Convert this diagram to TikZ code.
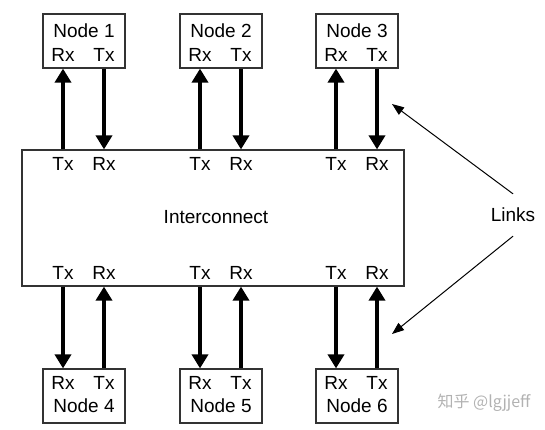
\documentclass[tikz,border=0pt]{standalone}
\usepackage{fontspec}
\setmainfont{Liberation Sans}
\newfontfamily\cjk{Noto Sans CJK SC}
\usetikzlibrary{arrows.meta, positioning}
\tikzstyle{endpoint} = [rectangle, draw=black!80, line width=1.2pt, minimum width=82pt,
    minimum height=54pt, inner sep=0pt]
\tikzstyle{hub} = [rectangle, draw=black!80, line width=1.2pt, minimum width=382pt,
    minimum height=136pt, inner sep=0pt]
\tikzstyle{label} = [inner sep=0pt, font=\fontsize{19}{22}\selectfont]
\tikzstyle{link} = [line width=3.6pt, -{Triangle[width=16pt,length=14pt]}]
\tikzstyle{pointer} = [line width=1pt, -{Triangle[width=9pt,length=12pt]}]

\begin{document}
\begin{tikzpicture}[x=1pt, y=-1pt]
\useasboundingbox (0,0) rectangle (545,429);
% boxes
\node (n1) [endpoint] at (84,41) {};
\node (n2) [endpoint] at (221,41) {};
\node (n3) [endpoint] at (357,41) {};
\node (ic) [hub] at (213,218) {};
\node (n4) [endpoint] at (84,396) {};
\node (n5) [endpoint] at (221,396) {};
\node (n6) [endpoint] at (357,396) {};
% top node texts
\node (t1) [label] at (84,31) {Node 1};
\node (n1rx) [label] at (63,55) {Rx};
\node (n1tx) [label] at (104,55) {Tx};
\node (t2) [label] at (221,31) {Node 2};
\node (n2rx) [label] at (200,55) {Rx};
\node (n2tx) [label] at (241,55) {Tx};
\node (t3) [label] at (357,31) {Node 3};
\node (n3rx) [label] at (336,55) {Rx};
\node (n3tx) [label] at (377,55) {Tx};
% interconnect texts
\node (tic) [label] at (216,217) {Interconnect};
\node (u1tx) [label] at (63,164) {Tx};
\node (u1rx) [label] at (104,164) {Rx};
\node (u2tx) [label] at (200,164) {Tx};
\node (u2rx) [label] at (241,164) {Rx};
\node (u3tx) [label] at (336,164) {Tx};
\node (u3rx) [label] at (377,164) {Rx};
\node (d1tx) [label] at (63,273) {Tx};
\node (d1rx) [label] at (104,273) {Rx};
\node (d2tx) [label] at (200,273) {Tx};
\node (d2rx) [label] at (241,273) {Rx};
\node (d3tx) [label] at (336,273) {Tx};
\node (d3rx) [label] at (377,273) {Rx};
% bottom node texts
\node (t4) [label] at (84,406) {Node 4};
\node (n4rx) [label] at (63,383) {Rx};
\node (n4tx) [label] at (104,383) {Tx};
\node (t5) [label] at (221,406) {Node 5};
\node (n5rx) [label] at (200,383) {Rx};
\node (n5tx) [label] at (241,383) {Tx};
\node (t6) [label] at (357,406) {Node 6};
\node (n6rx) [label] at (336,383) {Rx};
\node (n6tx) [label] at (377,383) {Tx};
% links, top
\draw [link] (u1tx |- ic.north) -- (n1rx |- n1.south);
\draw [link] (n1tx |- n1.south) -- (u1rx |- ic.north);
\draw [link] (u2tx |- ic.north) -- (n2rx |- n2.south);
\draw [link] (n2tx |- n2.south) -- (u2rx |- ic.north);
\draw [link] (u3tx |- ic.north) -- (n3rx |- n3.south);
\draw [link] (n3tx |- n3.south) -- (u3rx |- ic.north);
% links, bottom
\draw [link] (d1tx |- ic.south) -- (n4rx |- n4.north);
\draw [link] (n4tx |- n4.north) -- (d1rx |- ic.south);
\draw [link] (d2tx |- ic.south) -- (n5rx |- n5.north);
\draw [link] (n5tx |- n5.north) -- (d2rx |- ic.south);
\draw [link] (d3tx |- ic.south) -- (n6rx |- n6.north);
\draw [link] (n6tx |- n6.north) -- (d3rx |- ic.south);
% callout
\node (links) [label] at (513,215) {Links};
\coordinate (up) at (392,104);
\coordinate (down) at (392,334);
\draw [pointer] ([yshift=14pt]links.north) -- (up);
\draw [pointer] ([yshift=-14pt]links.south) -- (down);
\node (mark) [font=\cjk\fontsize{16}{18}\selectfont, text=black!30] at (484,403) {知乎 @lgjjeff};
\end{tikzpicture}
\end{document}
